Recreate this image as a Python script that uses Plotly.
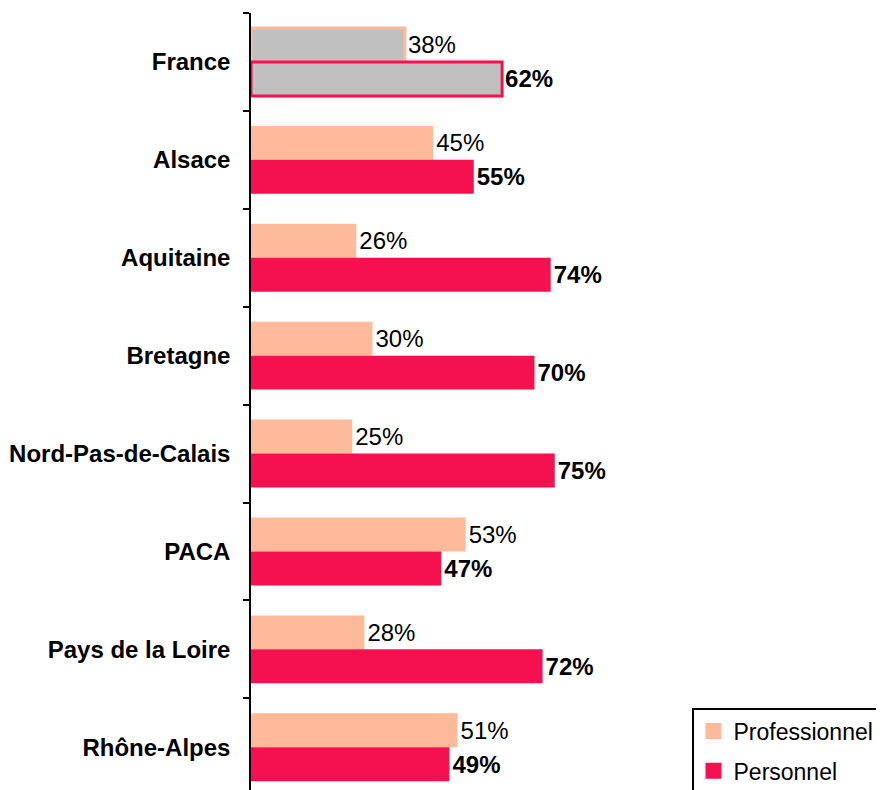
import plotly.graph_objects as go

regions = ["France", "Alsace", "Aquitaine", "Bretagne", "Nord-Pas-de-Calais",
           "PACA", "Pays de la Loire", "Rhône-Alpes"]
professionnel = [38, 45, 26, 30, 25, 53, 28, 51]
personnel = [62, 55, 74, 70, 75, 47, 72, 49]

PEACH = "#FFBB99"
CRIMSON = "#F5104F"
GRAY = "#C0C0C0"
FONT = "Liberation Sans, Arial, sans-serif"
FS = 24

# points are passed bottom-first (axis order still comes from categoryarray)
ys = regions[::-1]

def fills(base):
    return [GRAY if r == "France" else base for r in ys]

def line_widths():
    return [3 if r == "France" else 0 for r in ys]

fig = go.Figure()
fig.add_trace(go.Bar(
    name="Professionnel", y=ys, x=professionnel[::-1], orientation="h",
    marker=dict(color=fills(PEACH), line=dict(color=PEACH, width=line_widths())),
    texttemplate="%{x}%", textposition="outside", constraintext="none",
    textfont=dict(family=FONT, size=FS, color="black"),
    cliponaxis=False, showlegend=False,
))
fig.add_trace(go.Bar(
    name="Personnel", y=ys, x=personnel[::-1], orientation="h",
    marker=dict(color=fills(CRIMSON), line=dict(color=CRIMSON, width=line_widths())),
    texttemplate="<b>%{x}%</b>", textposition="outside", constraintext="none",
    textfont=dict(family=FONT, size=FS, color="black"),
    cliponaxis=False, showlegend=False,
))
# legend swatches (larger squares than the bar legend symbol)
for name, col, grp in [("Professionnel", PEACH, "a"), ("Personnel", CRIMSON, "b")]:
    fig.add_trace(go.Scatter(
        name=name, x=[None], y=[None], mode="markers",
        marker=dict(symbol="square", size=16, color=col),
        legendgroup=grp, showlegend=True, hoverinfo="skip",
    ))

# the page body adds an 8px offset, so the figure is placed 8px up/left
fig.update_layout(
    width=884, height=790,
    margin=dict(l=243, r=0, t=5, b=0, autoexpand=False),
    paper_bgcolor="white", plot_bgcolor="white",
    barmode="group", bargap=0.306, bargroupgap=0,
    font=dict(family=FONT, size=FS, color="black"),
    showlegend=True,
    legend=dict(
        xref="container", yref="container",
        x=684/884, y=1-700/790, xanchor="left", yanchor="top",
        bordercolor="black", borderwidth=1.5, bgcolor="white",
        font=dict(family=FONT, size=23, color="black"),
        traceorder="grouped", tracegroupgap=7, itemsizing="trace",
    ),
    xaxis=dict(visible=False, range=[0, 641/4.05], fixedrange=True),
    yaxis=dict(
        type="category", categoryorder="array", categoryarray=regions,
        range=[-0.5 + 785/97.9, -0.5],
        showline=True, linecolor="black", linewidth=1.5,
        ticks="outside", ticklen=6, tickcolor="black", tickwidth=1.5,
        tickson="boundaries", ticklabelstandoff=14,
        tickfont=dict(family=FONT, size=FS, color="black", weight="bold"),
        showgrid=False, zeroline=False,
    ),
)

fig.write_html("out.html")
